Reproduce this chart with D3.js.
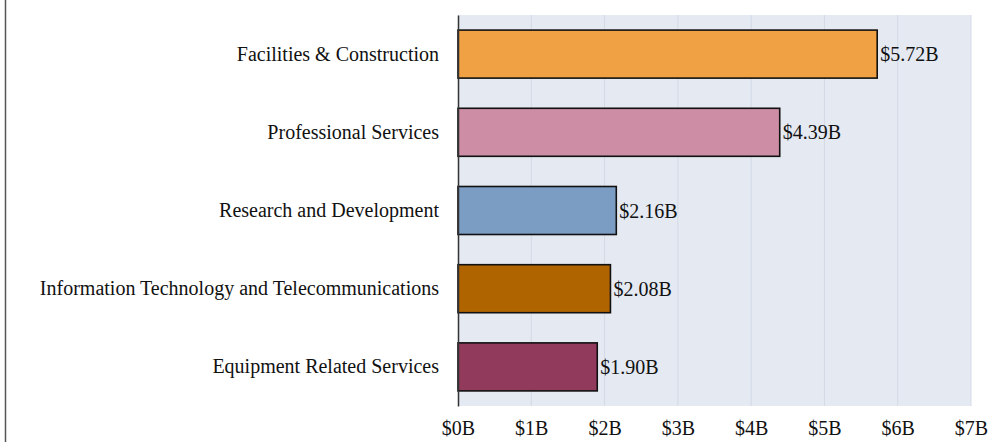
<!DOCTYPE html>
<html>
<head>
<meta charset="utf-8">
<script src="https://cdn.jsdelivr.net/npm/d3@7"></script>
<style>
  html, body { margin: 0; padding: 0; background: #fff; }
  svg { display: block; }
  text { font-family: "Liberation Serif", "DejaVu Serif", serif; fill: #111; }
</style>
</head>
<body>
<svg id="chart" width="990" height="442"></svg>
<script>
// Contract spending by category, in billions of dollars
const categories = [
  "Facilities & Construction",
  "Professional Services",
  "Research and Development",
  "Information Technology and Telecommunications",
  "Equipment Related Services"
];
const values = [5.72, 4.39, 2.16, 2.08, 1.90];
const colors = ["#F0A143", "#CC8DA5", "#7B9DC4", "#B06400", "#923A5B"];
const tickValues = [0, 1, 2, 3, 4, 5, 6, 7];

const svg = d3.select("#chart");
const margin = { left: 458, right: 19, top: 15, bottom: 36 };
const W = 990, H = 442;
const innerW = W - margin.left - margin.right;
const innerH = H - margin.top - margin.bottom;
const fontSize = 20;

// Outer frame line on the left
svg.append("line")
  .attr("x1", 5.5).attr("x2", 5.5).attr("y1", 0).attr("y2", H)
  .attr("stroke", "#555").attr("stroke-width", 1.5);

const g = svg.append("g").attr("transform", `translate(${margin.left},${margin.top})`);

const x = d3.scaleLinear().domain([0, 7]).range([0, innerW]);
const y = d3.scaleBand().domain(categories).range([0, innerH]).paddingInner(0.386).paddingOuter(0.193);

// Plot background
g.append("rect")
  .attr("x", 0).attr("y", 0).attr("width", innerW).attr("height", innerH)
  .attr("fill", "#E5E9F1");

// Vertical gridlines
g.selectAll("line.grid")
  .data(tickValues.slice(1))
  .join("line")
  .attr("class", "grid")
  .attr("x1", d => x(d)).attr("x2", d => x(d))
  .attr("y1", 0).attr("y2", innerH)
  .attr("stroke", "#D3DAE6").attr("stroke-width", 1);

// Bars
g.selectAll("rect.bar")
  .data(values)
  .join("rect")
  .attr("class", "bar")
  .attr("x", x(0))
  .attr("y", (d, i) => y(categories[i]))
  .attr("width", d => x(d) - x(0))
  .attr("height", y.bandwidth())
  .attr("fill", (d, i) => colors[i])
  .attr("stroke", "#111")
  .attr("stroke-width", 1.6);

// Value labels
g.selectAll("text.val")
  .data(values)
  .join("text")
  .attr("class", "val")
  .attr("x", d => x(d) + 3)
  .attr("y", (d, i) => y(categories[i]) + y.bandwidth() / 2)
  .attr("dy", "0.35em")
  .attr("font-size", fontSize)
  .text(d => "$" + d.toFixed(2) + "B");

// Y axis (category labels)
const yAxis = g.append("g").call(d3.axisLeft(y).tickSize(0).tickPadding(19));
yAxis.select(".domain").attr("stroke", "#333").attr("stroke-width", 1.5);
yAxis.selectAll("text")
  .attr("font-size", fontSize)
  .attr("fill", "#111")
  .style("font-family", "\"Liberation Serif\", serif");

// X axis (tick labels only)
const xAxis = g.append("g")
  .attr("transform", `translate(0,${innerH})`)
  .call(d3.axisBottom(x).tickValues(tickValues).tickSize(0).tickPadding(15).tickFormat(d => "$" + d + "B"));
xAxis.select(".domain").remove();
xAxis.selectAll("text")
  .attr("font-size", fontSize)
  .attr("fill", "#111")
  .style("font-family", "\"Liberation Serif\", serif");
</script>
</body>
</html>
